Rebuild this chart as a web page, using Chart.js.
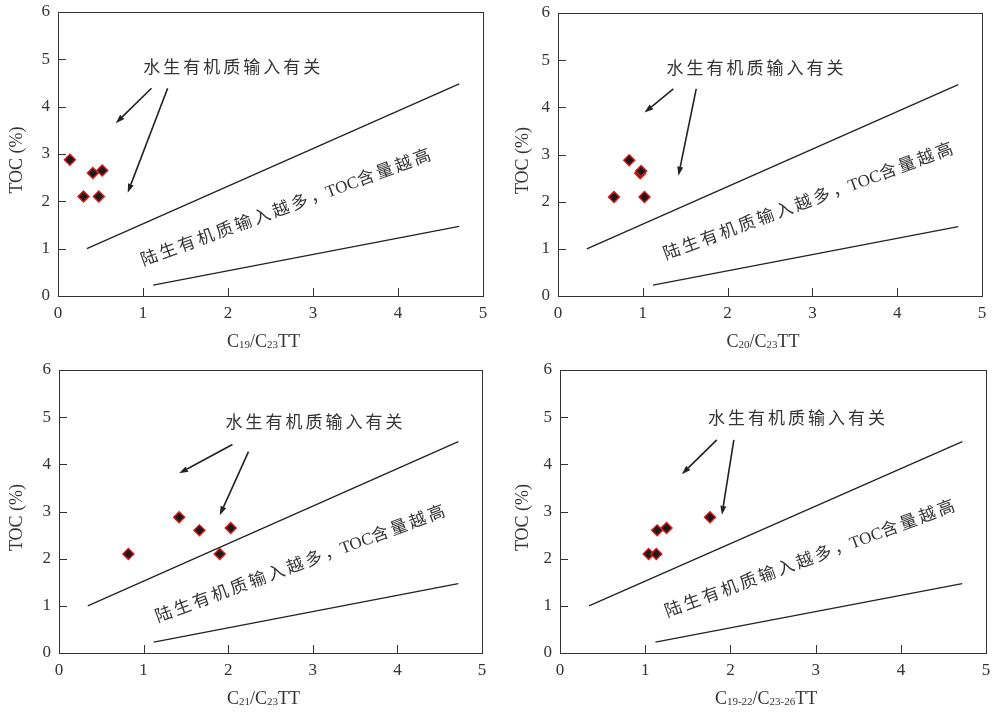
<!DOCTYPE html>
<html>
<head>
<meta charset="utf-8">
<title>TOC vs tricyclic terpane ratios</title>
<script src="https://cdn.jsdelivr.net/npm/chart.js@4.4.1/dist/chart.umd.min.js"></script>
<style>
    html, body { margin: 0; padding: 0; background: #fff; }
    body { width: 993px; height: 713px; position: relative; overflow: hidden; }
    .panel { position: absolute; width: 496px; height: 356px; }
</style>
</head>
<body>
<div class="panel" style="left:0;top:0"><canvas id="c19Chart"></canvas></div>
<div class="panel" style="left:497px;top:0"><canvas id="c20Chart"></canvas></div>
<div class="panel" style="left:0;top:357px"><canvas id="c21Chart"></canvas></div>
<div class="panel" style="left:497px;top:357px"><canvas id="c1922Chart"></canvas></div>
<script>
// Axis ticks
const xTicks = [0, 1, 2, 3, 4, 5];
const yTicks = [0, 1, 2, 3, 4, 5, 6];

// TOC (%) of the five samples, same order in every panel
const tocValues = [2.88, 2.10, 2.60, 2.10, 2.65];

// Ratio values per panel
const c19Ratio = [0.14, 0.30, 0.41, 0.48, 0.52];
const c20Ratio = [0.84, 0.66, 0.97, 1.02, 0.98];
const c21Ratio = [1.42, 0.82, 1.66, 1.90, 2.03];
const c1922Ratio = [1.76, 1.04, 1.14, 1.13, 1.25];

// Boundary lines (x, y in data units)
const upperLineX = [0.34, 4.72];
const upperLineY = [1.00, 4.48];
const lowerLineX = [1.12, 4.72];
const lowerLineY = [0.23, 1.47];

// Annotation arrows [x0, y0, x1, y1] in data units
const c19Arrows = [[1.10, 4.39, 0.68, 3.65], [1.29, 4.39, 0.82, 2.18]];
const c20Arrows = [[1.36, 4.39, 1.02, 3.89], [1.63, 4.39, 1.42, 2.55]];
const c21Arrows = [[2.05, 4.42, 1.42, 3.81], [2.24, 4.27, 1.90, 2.92]];
const c1922Arrows = [[1.84, 4.52, 1.43, 3.79], [2.04, 4.52, 1.90, 2.93]];

const aquaticText = '水生有机质输入有关';
// pieces of the slanted note: [text, letter spacing in px]
const terrestrialParts = [['陆生有机质输入越多', 3], ['，', 0], ['TOC', 0], ['含量越高', 3]];

const SERIF = '"Liberation Serif", "Times New Roman", serif';
const CJK = '"Liberation Serif", "Noto Sans CJK SC", sans-serif';
const INK = '#222';

function toPoints(xs, ys) {
    return xs.map((v, i) => ({ x: v, y: ys[i] }));
}

// Frame, inside ticks, titles, arrows and notes
const decorPlugin = {
    id: 'decor',
    afterDatasetsDraw(chart, args, opts) {
        const { ctx, chartArea: a } = chart;
        const sx = chart.scales.x, sy = chart.scales.y;
        ctx.save();

        // frame
        ctx.strokeStyle = '#333';
        ctx.lineWidth = 1;
        ctx.strokeRect(Math.round(a.left) + 0.5, Math.round(a.top) + 0.5,
            Math.round(a.right - a.left), Math.round(a.bottom - a.top));

        // inside ticks
        ctx.beginPath();
        xTicks.slice(1, -1).forEach(v => {
            const px = Math.round(sx.getPixelForValue(v)) + 0.5;
            ctx.moveTo(px, a.bottom);
            ctx.lineTo(px, a.bottom - 8);
        });
        yTicks.slice(1, -1).forEach(v => {
            const py = Math.round(sy.getPixelForValue(v)) + 0.5;
            ctx.moveTo(a.left, py);
            ctx.lineTo(a.left + 8, py);
        });
        ctx.stroke();

        // arrows
        ctx.strokeStyle = INK;
        ctx.fillStyle = INK;
        ctx.lineWidth = 1.6;
        opts.arrows.forEach(([x0, y0, x1, y1]) => {
            const p0x = sx.getPixelForValue(x0), p0y = sy.getPixelForValue(y0);
            const p1x = sx.getPixelForValue(x1), p1y = sy.getPixelForValue(y1);
            const ang = Math.atan2(p1y - p0y, p1x - p0x);
            const len = 9, half = 3;
            const bx = p1x - Math.cos(ang) * len, by = p1y - Math.sin(ang) * len;
            ctx.beginPath();
            ctx.moveTo(p0x, p0y);
            ctx.lineTo(bx, by);
            ctx.stroke();
            ctx.beginPath();
            ctx.moveTo(p1x, p1y);
            ctx.lineTo(bx + Math.sin(ang) * half, by - Math.cos(ang) * half);
            ctx.lineTo(bx - Math.sin(ang) * half, by + Math.cos(ang) * half);
            ctx.closePath();
            ctx.fill();
        });

        // notes
        ctx.fillStyle = '#333';
        ctx.textBaseline = 'middle';
        ctx.textAlign = 'center';
        ctx.font = '17px ' + CJK;
        ctx.letterSpacing = '3px';
        ctx.fillText(aquaticText, sx.getPixelForValue(opts.aquaticAt[0]) + 1, sy.getPixelForValue(opts.aquaticAt[1]));

        ctx.save();
        ctx.translate(sx.getPixelForValue(opts.terrestrialAt[0]), sy.getPixelForValue(opts.terrestrialAt[1]));
        ctx.rotate(-20.3 * Math.PI / 180);
        ctx.textAlign = 'left';
        let total = 0;
        terrestrialParts.forEach(([t, sp]) => {
            ctx.letterSpacing = sp + 'px';
            total += ctx.measureText(t).width;
        });
        let tx = -total / 2;
        terrestrialParts.forEach(([t, sp]) => {
            ctx.letterSpacing = sp + 'px';
            ctx.fillText(t, tx, 0);
            tx += ctx.measureText(t).width;
        });
        ctx.restore();
        ctx.letterSpacing = '0px';

        // y title
        ctx.save();
        ctx.font = '18px ' + SERIF;
        ctx.translate(a.left - opts.yTitleGap, (a.top + a.bottom) / 2 + 6);
        ctx.rotate(-Math.PI / 2);
        ctx.fillText('TOC (%)', 0, 0);
        ctx.restore();

        // x title with subscripts
        const mainFont = '18px ' + SERIF, subFont = '11px ' + SERIF;
        let width = 0;
        opts.xTitle.forEach(([t, sub]) => {
            ctx.font = sub ? subFont : mainFont;
            width += ctx.measureText(t).width;
        });
        let cx = (a.left + a.right) / 2 - 7 - width / 2;
        const base = a.bottom + 51;
        ctx.textAlign = 'left';
        ctx.textBaseline = 'alphabetic';
        opts.xTitle.forEach(([t, sub]) => {
            ctx.font = sub ? subFont : mainFont;
            ctx.fillText(t, cx, sub ? base + 1 : base);
            cx += ctx.measureText(t).width;
        });

        ctx.restore();
    }
};

function buildChart(canvasId, ratio, arrows, box, notes, xTitle) {
    const canvas = document.getElementById(canvasId);
    if (!canvas || typeof Chart === 'undefined') return null;
    return new Chart(canvas.getContext('2d'), {
        type: 'scatter',
        data: {
            datasets: [
                {
                    data: toPoints(ratio, tocValues),
                    pointStyle: 'rectRot',
                    pointRadius: 5.5,
                    backgroundColor: '#1a1a1a',
                    borderColor: '#e01515',
                    borderWidth: 1.4
                },
                {
                    data: toPoints(upperLineX, upperLineY),
                    showLine: true,
                    pointRadius: 0,
                    borderColor: INK,
                    borderWidth: 1.3
                },
                {
                    data: toPoints(lowerLineX, lowerLineY),
                    showLine: true,
                    pointRadius: 0,
                    borderColor: INK,
                    borderWidth: 1.3
                }
            ]
        },
        options: {
            responsive: true,
            maintainAspectRatio: false,
            animation: false,
            devicePixelRatio: 1,
            layout: { padding: { left: 0, top: box.top, right: box.right, bottom: 0 } },
            plugins: {
                legend: { display: false },
                tooltip: { enabled: false },
                decor: {
                    arrows: arrows,
                    aquaticAt: notes.aquatic,
                    terrestrialAt: notes.terrestrial,
                    yTitleGap: box.yTitleGap,
                    xTitle: xTitle
                }
            },
            scales: {
                x: {
                    type: 'linear',
                    min: 0,
                    max: 5,
                    afterBuildTicks: s => { s.ticks = xTicks.map(v => ({ value: v })); },
                    afterFit: s => { s.height = 60; s.paddingLeft = 0; s.paddingRight = 0; },
                    grid: { display: false, drawTicks: false },
                    border: { display: false },
                    ticks: { color: '#333', padding: 7, font: { family: SERIF, size: 17 } }
                },
                y: {
                    type: 'linear',
                    min: 0,
                    max: 6,
                    afterBuildTicks: s => { s.ticks = yTicks.map(v => ({ value: v })); },
                    afterFit: s => { s.width = box.left; s.paddingTop = 0; s.paddingBottom = 0; },
                    grid: { display: false, drawTicks: false },
                    border: { display: false },
                    ticks: { color: '#333', padding: 8, font: { family: SERIF, size: 17 } }
                }
            }
        },
        plugins: [decorPlugin]
    });
}

const tocCharts = {};

document.addEventListener('DOMContentLoaded', () => {
    tocCharts.c19 = buildChart('c19Chart', c19Ratio, c19Arrows,
        { left: 58, top: 12, right: 13, yTitleGap: 41 },
        { aquatic: [2.05, 4.80], terrestrial: [2.70, 1.86] },
        [['C', false], ['19', true], ['/C', false], ['23', true], ['TT', false]]);

    tocCharts.c20 = buildChart('c20Chart', c20Ratio, c20Arrows,
        { left: 61, top: 13, right: 11, yTitleGap: 35 },
        { aquatic: [2.33, 4.80], terrestrial: [2.97, 2.00] },
        [['C', false], ['20', true], ['/C', false], ['23', true], ['TT', false]]);

    tocCharts.c21 = buildChart('c21Chart', c21Ratio, c21Arrows,
        { left: 59, top: 13, right: 14, yTitleGap: 42 },
        { aquatic: [3.02, 4.87], terrestrial: [2.87, 1.88] },
        [['C', false], ['21', true], ['/C', false], ['23', true], ['TT', false]]);

    tocCharts.c1922 = buildChart('c1922Chart', c1922Ratio, c1922Arrows,
        { left: 63, top: 13, right: 6, yTitleGap: 37 },
        { aquatic: [2.78, 4.94], terrestrial: [2.95, 1.99] },
        [['C', false], ['19-22', true], ['/C', false], ['23-26', true], ['TT', false]]);
});
</script>
</body>
</html>
